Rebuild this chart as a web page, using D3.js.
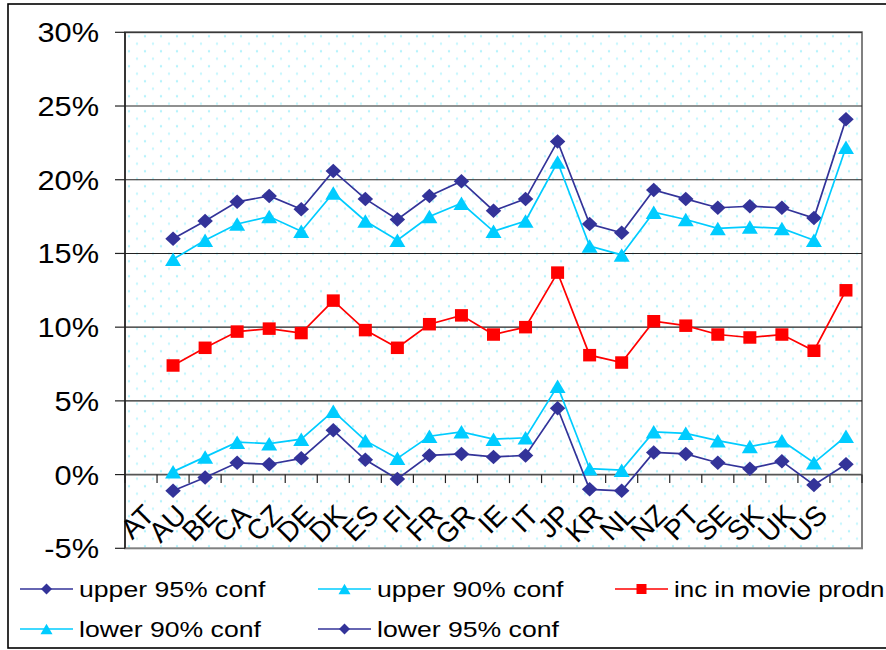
<!DOCTYPE html>
<html>
<head>
<meta charset="utf-8">
<script src="https://cdn.jsdelivr.net/npm/d3@7/dist/d3.min.js"></script>
<style>
  html, body { margin: 0; padding: 0; background: #fff; }
  svg { display: block; font-family: "Liberation Sans", Arial, sans-serif; }
</style>
</head>
<body>
<svg id="chart" width="886" height="650"></svg>
<script>
// ---- data (values in %) ----
// Category slots on the axis; the last slot carries no label.
const categories = ["AT","AU","BE","CA","CZ","DE","DK","ES","FI","FR","GR","IE","IT","JP","KR","NL","NZ","PT","SE","SK","UK","US",""];
// Series values: the first slot (AT) is empty in the source chart.
const upper95 = [null, 16.0, 17.2, 18.5, 18.9, 18.0, 20.6, 18.7, 17.3, 18.9, 19.9, 17.9, 18.7, 22.6, 17.0, 16.4, 19.3, 18.7, 18.1, 18.2, 18.1, 17.4, 24.1];
const upper90 = [null, 14.6, 15.9, 17.0, 17.5, 16.5, 19.1, 17.2, 15.9, 17.5, 18.4, 16.5, 17.2, 21.2, 15.5, 14.9, 17.8, 17.3, 16.7, 16.8, 16.7, 15.9, 22.2];
const incMovie = [null, 7.4, 8.6, 9.7, 9.9, 9.6, 11.8, 9.8, 8.6, 10.2, 10.8, 9.5, 10.0, 13.7, 8.1, 7.6, 10.4, 10.1, 9.5, 9.3, 9.5, 8.4, 12.5];
const lower90 = [null, 0.2, 1.2, 2.2, 2.1, 2.4, 4.3, 2.3, 1.1, 2.6, 2.9, 2.4, 2.5, 6.0, 0.4, 0.3, 2.9, 2.8, 2.3, 1.9, 2.3, 0.8, 2.6];
const lower95 = [null, -1.1, -0.2, 0.8, 0.7, 1.1, 3.0, 1.0, -0.3, 1.3, 1.4, 1.2, 1.3, 4.5, -1.0, -1.1, 1.5, 1.4, 0.8, 0.4, 0.9, -0.7, 0.7];
const yTicks = [-5, 0, 5, 10, 15, 20, 25, 30];
const seriesNames = ["upper 95% conf", "upper 90% conf", "inc in movie prodn", "lower 90% conf", "lower 95% conf"];

// ---- layout ----
const svg = d3.select("#chart");
const L = 125, R = 862, T = 32.3, B = 548.3;

const x = d3.scaleBand().domain(d3.range(categories.length)).range([L, R]).padding(0);
const cx = i => x(i) + x.bandwidth() / 2;
const y = d3.scaleLinear().domain([-5, 30]).range([B, T]);

// outer chart border
svg.append("rect").attr("x", 8).attr("y", 4).attr("width", 900).attr("height", 644)
  .attr("fill", "#fff").attr("stroke", "#000").attr("stroke-width", 1.6);

// dotted pattern for plot area
const defs = svg.append("defs");
const pat = defs.append("pattern").attr("id", "dots").attr("patternUnits", "userSpaceOnUse")
  .attr("x", L).attr("y", T).attr("width", 16).attr("height", 15);
pat.append("rect").attr("width", 16).attr("height", 15).attr("fill", "#fff");
pat.append("circle").attr("cx", 4).attr("cy", 4).attr("r", 1.15).attr("fill", "#b0f2fc");
pat.append("circle").attr("cx", 12).attr("cy", 11.5).attr("r", 1.15).attr("fill", "#c0f6fe");

svg.append("rect").attr("x", L).attr("y", T).attr("width", R - L).attr("height", B - T)
  .attr("fill", "url(#dots)").attr("stroke", "#808080").attr("stroke-width", 2);

// gridlines
svg.append("g").selectAll("line").data(yTicks.filter(d => d > -5)).join("line")
  .attr("x1", L).attr("x2", R).attr("y1", d => y(d)).attr("y2", d => y(d))
  .attr("stroke", d => d === 0 ? "#555" : "#222").attr("stroke-width", d => d === 0 ? 1.6 : 1.1);

// y axis line + ticks
svg.append("line").attr("x1", L).attr("x2", L).attr("y1", T).attr("y2", B)
  .attr("stroke", "#222").attr("stroke-width", 1.6);
svg.append("g").selectAll("line").data(yTicks).join("line")
  .attr("x1", L - 10).attr("x2", L).attr("y1", d => y(d)).attr("y2", d => y(d))
  .attr("stroke", "#222").attr("stroke-width", 1.2);
// y labels (horizontally stretched like the source)
const ySX = 1.14;
svg.append("g").selectAll("g").data(yTicks).join("g")
  .attr("transform", d => `translate(99,${y(d) + 10}) scale(${ySX},1)`)
  .append("text").attr("text-anchor", "end").attr("font-size", 27).attr("fill", "#000")
  .text(d => d + "%");

// x axis ticks (category boundaries), pointing down from the 0% line
const y0 = y(0);
svg.append("g").selectAll("line").data(d3.range(categories.length + 1)).join("line")
  .attr("x1", i => L + i * x.step()).attr("x2", i => L + i * x.step())
  .attr("y1", y0).attr("y2", y0 + 8.5)
  .attr("stroke", "#222").attr("stroke-width", 1.2);
// x labels rotated
svg.append("g").selectAll("text").data(categories.map((c, i) => ({c, i})).filter(d => d.c)).join("text")
  .attr("transform", d => `translate(${cx(d.i) + 15},${y0 + 42}) rotate(-45)`)
  .attr("text-anchor", "end").attr("font-size", 28).attr("fill", "#000")
  .text(d => d.c);

// marker shapes
const diamond = (w, h) => `M0,${-h/2}L${w/2},0L0,${h/2}L${-w/2},0Z`;
const triangle = (w, h) => `M0,${-h/2}L${w/2},${h/2}L${-w/2},${h/2}Z`;
const square = (w, h) => `M${-w/2},${-h/2}h${w}v${h}h${-w}Z`;

const series = [
  {name: seriesNames[0], values: upper95, color: "#333399", shape: diamond(15.5, 14.5), lshape: diamond(11, 11)},
  {name: seriesNames[1], values: upper90, color: "#00ccff", shape: triangle(16, 13.5), lshape: triangle(12, 10.5)},
  {name: seriesNames[2], values: incMovie, color: "#ff0000", shape: square(13, 12.5), lshape: square(10, 10)},
  {name: seriesNames[3], values: lower90, color: "#00ccff", shape: triangle(16, 13.5), lshape: triangle(12, 10.5)},
  {name: seriesNames[4], values: lower95, color: "#333399", shape: diamond(15.5, 14.5), lshape: diamond(11, 11)}
];

const line = d3.line().defined(d => d.v !== null).x(d => cx(d.i)).y(d => y(d.v));

series.forEach(s => {
  const pts = s.values.map((v, i) => ({v, i}));
  const g = svg.append("g");
  g.append("path").datum(pts).attr("d", line).attr("fill", "none")
    .attr("stroke", s.color).attr("stroke-width", 1.7);
  g.selectAll("path.m").data(pts.filter(d => d.v !== null)).join("path").attr("class", "m")
    .attr("transform", d => `translate(${cx(d.i)},${y(d.v)})`)
    .attr("d", s.shape).attr("fill", s.color);
});

// legend
const legendPos = [
  {x: 20, y: 589, sx: 1.21}, {x: 318, y: 589, sx: 1.21}, {x: 615, y: 589, sx: 1.18},
  {x: 20, y: 629, sx: 1.21}, {x: 318, y: 629, sx: 1.21}
];
series.forEach((s, k) => {
  const p = legendPos[k];
  const g = svg.append("g").attr("transform", `translate(${p.x},${p.y})`);
  g.append("line").attr("x1", 0).attr("x2", 53).attr("y1", 0).attr("y2", 0)
    .attr("stroke", s.color).attr("stroke-width", 1.7);
  g.append("path").attr("transform", "translate(26.5,0)").attr("d", s.lshape).attr("fill", s.color);
  g.append("g").attr("transform", `translate(59,7.8) scale(${p.sx},1)`)
    .append("text").attr("font-size", 22).attr("fill", "#000").text(s.name);
});
</script>
</body>
</html>
